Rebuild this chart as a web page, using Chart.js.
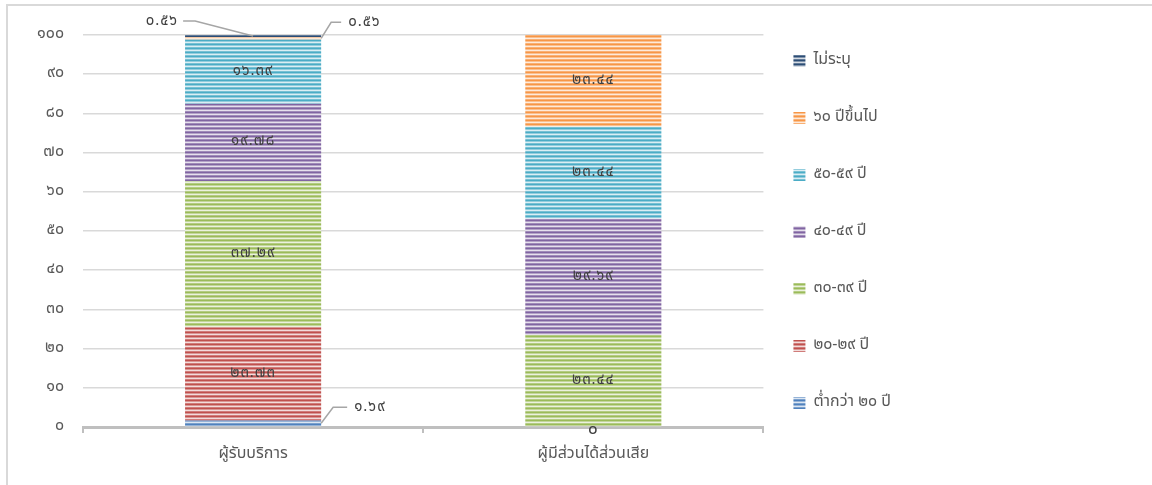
<!DOCTYPE html>
<html>
<head>
<meta charset="utf-8">
<script src="https://cdn.jsdelivr.net/npm/chart.js@4"></script>
<style>
  html, body { margin: 0; padding: 0; background: #fff; }
  #wrap { width: 1152px; height: 485px; }
</style>
</head>
<body>
<div id="wrap"><canvas id="ageChart" width="1152" height="485"></canvas></div>
<script>
const categories = ['ผู้รับบริการ', 'ผู้มีส่วนได้ส่วนเสีย']
const ageGroups = ['ต่ำกว่า ๒๐ ปี', '๒๐-๒๙ ปี', '๓๐-๓๙ ปี', '๔๐-๔๙ ปี', '๕๐-๕๙ ปี', '๖๐ ปีขึ้นไป', 'ไม่ระบุ']
const under20 = [1.69, 0]
const age20to29 = [23.73, null]
const age30to39 = [37.29, 23.44]
const age40to49 = [19.78, 29.69]
const age50to59 = [16.39, 23.44]
const age60plus = [0.56, 23.44]
const notStated = [0.56, null]
const yTicks = [0, 10, 20, 30, 40, 50, 60, 70, 80, 90, 100]

const groupColors = ['#4f81bd', '#c0504d', '#9bbb59', '#8064a2', '#4bacc6', '#f79646', '#2c4d75']
const fontFamily = "'Noto Sans Thai', 'Noto Sans', 'DejaVu Sans', sans-serif"
const thaiDigits = '๐๑๒๓๔๕๖๗๘๙'

// small values get a leader line instead of a centred label
const leaders = {
  '0-0': { ax: 1, dx: 12, dy: -16, run: 14 },
  '5-0': { ax: 1, dx: 10, dy: -16, run: 10 },
  '6-0': { ax: 0, dx: -58, dy: -15, run: -12 }
}

let ageChart

function toThai(text) {
  return String(text).replace(/[0-9]/g, d => thaiDigits[d])
}

function mix(hex, amount) {
  // blend colour towards white
  const n = parseInt(hex.slice(1), 16)
  const r = n >> 16, g = (n >> 8) & 255, b = n & 255
  const f = c => Math.round(c + (255 - c) * amount)
  return `rgb(${f(r)},${f(g)},${f(b)})`
}

function stripes(hex) {
  const c = document.createElement('canvas')
  c.width = 4
  c.height = 4
  const g = c.getContext('2d')
  const rows = [0, 0.4, 0.8, 0.25]
  rows.forEach((amt, i) => {
    g.fillStyle = mix(hex, amt)
    g.fillRect(0, i, 4, 1)
  })
  return g.createPattern(c, 'repeat')
}

const frame = {
  id: 'frame',
  beforeDraw(chart) {
    const ctx = chart.ctx
    ctx.save()
    ctx.strokeStyle = '#d9d9d9'
    ctx.lineWidth = 2
    ctx.beginPath()
    ctx.moveTo(7, 485)
    ctx.lineTo(7, 5)
    ctx.lineTo(1152, 5)
    ctx.stroke()
    ctx.restore()
  },
  afterLayout(chart) {
    // pull the legend column a little closer to the bars
    chart.legend.left -= 11
    chart.legend.right -= 11
    chart.legend.top -= 28
    chart.legend.bottom -= 28
  }
}

const barLabels = {
  id: 'barLabels',
  afterDatasetsDraw(chart) {
    const ctx = chart.ctx
    ctx.save()
    ctx.font = `15px ${fontFamily}`
    ctx.letterSpacing = '1px'
    ctx.fillStyle = '#404040'
    ctx.textBaseline = 'middle'
    chart.data.datasets.forEach((ds, di) => {
      chart.getDatasetMeta(di).data.forEach((bar, i) => {
        const value = ds.data[i]
        if (value === null || value === undefined) return
        const text = toThai(value === 0 ? '0' : value.toFixed(2))
        const midY = (bar.y + bar.base) / 2
        const leader = leaders[di + '-' + i]
        if (leader) {
          const x0 = bar.x + leader.ax * bar.width / 2
          const x1 = x0 + leader.dx, y1 = midY + leader.dy
          const x2 = x1 + leader.run
          ctx.strokeStyle = '#a6a6a6'
          ctx.lineWidth = 1.5
          ctx.beginPath()
          ctx.moveTo(x0, midY)
          ctx.lineTo(x1, y1)
          ctx.lineTo(x2, y1)
          ctx.stroke()
          ctx.textAlign = leader.run > 0 ? 'left' : 'right'
          ctx.fillText(text, x2 + (leader.run > 0 ? 7 : -5), y1 + 1)
        } else if (value === 0) {
          ctx.textAlign = 'center'
          ctx.font = `17px ${fontFamily}`
          ctx.fillText(text, bar.x, bar.base + 4)
          ctx.font = `15px ${fontFamily}`
        } else {
          ctx.textAlign = 'center'
          ctx.fillText(text, bar.x, midY)
        }
      })
    })
    ctx.restore()
  }
}

function buildDatasets() {
  const series = [under20, age20to29, age30to39, age40to49, age50to59, age60plus, notStated]
  return series.map((data, i) => ({
    label: ageGroups[i],
    data: data,
    backgroundColor: stripes(groupColors[i]),
    borderWidth: 0,
    barPercentage: 0.4,
    categoryPercentage: 1.0
  }))
}

function initChart() {
  ageChart = new Chart(document.getElementById('ageChart'), {
    type: 'bar',
    data: {
      labels: categories,
      datasets: buildDatasets()
    },
    options: {
      responsive: false,
      animation: false,
      layout: { padding: { top: 35, right: 240, bottom: 0, left: 0 } },
      scales: {
        x: {
          stacked: true,
          grid: { drawOnChartArea: false, offset: true, tickLength: 6, color: '#bfbfbf', lineWidth: 2 },
          border: { color: '#bfbfbf', width: 3 },
          ticks: { color: '#595959', padding: 12, font: { size: 16, family: fontFamily } },
          afterFit: scale => { scale.height = 58 }
        },
        y: {
          stacked: true,
          min: 0,
          max: 100,
          afterBuildTicks: scale => { scale.ticks = yTicks.map(v => ({ value: v })) },
          grid: { color: '#d9d9d9', lineWidth: 1.5, drawTicks: false },
          border: { display: false },
          ticks: {
            color: '#595959',
            padding: 19,
            font: { size: 16, family: fontFamily },
            callback: v => toThai(v)
          },
          afterFit: scale => { scale.width = 83 }
        }
      },
      plugins: {
        legend: {
          position: 'right',
          reverse: true,
          labels: {
            boxWidth: 12,
            boxHeight: 12,
            padding: 41,
            color: '#595959',
            font: { size: 16, family: fontFamily }
          }
        },
        tooltip: { enabled: false }
      }
    },
    plugins: [frame, barLabels]
  })
}

initChart()
</script>
</body>
</html>
